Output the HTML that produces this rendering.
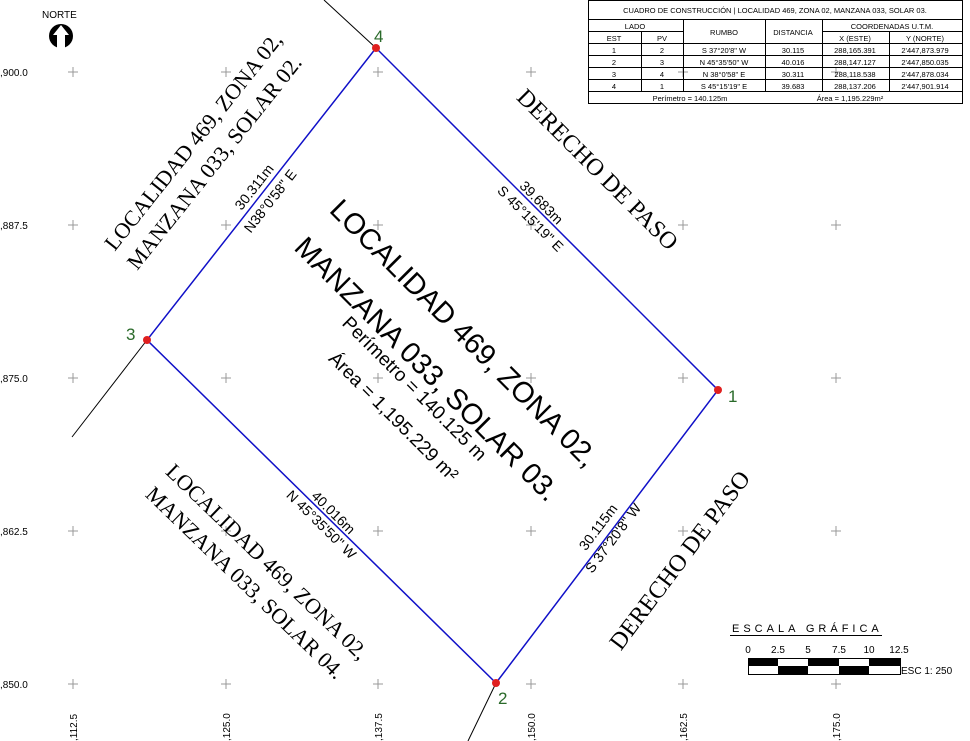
<!DOCTYPE html>
<html><head><meta charset="utf-8"><style>
html,body{margin:0;padding:0;background:#fff;}
svg{display:block;}
.t{font-family:"Liberation Sans",sans-serif;}
.s{font-family:"Liberation Serif",serif;}
</style></head><body>
<svg width="970" height="741" viewBox="0 0 970 741" xmlns="http://www.w3.org/2000/svg">
<rect width="970" height="741" fill="#fff"/>
<g stroke="#999" stroke-width="1">
<path d="M68 72h10M73 67v10M221 72h10M226 67v10M373 72h10M378 67v10M526 72h10M531 67v10M678 72h10M683 67v10M831 72h10M836 67v10"/>
<path d="M68 225h10M73 220v10M221 225h10M226 220v10M373 225h10M378 220v10M526 225h10M531 220v10M678 225h10M683 220v10M831 225h10M836 220v10"/>
<path d="M68 378h10M73 373v10M221 378h10M226 373v10M373 378h10M378 373v10M526 378h10M531 373v10M678 378h10M683 373v10M831 378h10M836 373v10"/>
<path d="M68 531h10M73 526v10M221 531h10M226 526v10M373 531h10M378 526v10M526 531h10M531 526v10M678 531h10M683 526v10M831 531h10M836 526v10"/>
<path d="M68 684h10M73 679v10M221 684h10M226 679v10M373 684h10M378 679v10M526 684h10M531 679v10M678 684h10M683 679v10M831 684h10M836 679v10"/>
</g>
<g class="t" font-size="10" fill="#000">
<text x="0" y="76">,900.0</text><text x="0" y="229">,887.5</text><text x="0" y="382">,875.0</text><text x="0" y="535">,862.5</text><text x="0" y="688">,850.0</text>
<text transform="translate(77,741) rotate(-90)">,112.5</text>
<text transform="translate(230,741) rotate(-90)">,125.0</text>
<text transform="translate(382,741) rotate(-90)">,137.5</text>
<text transform="translate(535,741) rotate(-90)">,150.0</text>
<text transform="translate(687,741) rotate(-90)">,162.5</text>
<text transform="translate(840,741) rotate(-90)">,175.0</text>
</g>
<g stroke="#000" stroke-width="1">
<line x1="376" y1="48" x2="324" y2="0"/>
<line x1="147" y1="340" x2="72" y2="437"/>
<line x1="496" y1="683" x2="468" y2="741"/>
</g>
<polygon points="376,48 718,390 496,683 147,340" fill="none" stroke="#1010c8" stroke-width="1.5"/>
<g fill="#e02020"><circle cx="376" cy="48" r="4"/><circle cx="718" cy="390" r="4"/><circle cx="496" cy="683" r="4"/><circle cx="147" cy="340" r="4"/></g>
<g class="t" font-size="17" fill="#2a6a2a">
<text x="374" y="42">4</text><text x="728" y="402">1</text><text x="498" y="704">2</text><text x="126" y="340">3</text>
</g>
<text class="t" x="42" y="18" font-size="10">NORTE</text>
<circle cx="61" cy="36" r="12" fill="#000"/>
<path d="M61 25 L69 35 L65 35 L65 48 L57 48 L57 35 L53 35 Z" fill="#fff"/>
<g class="t" font-size="14" fill="#000" text-anchor="middle">
<text transform="translate(538,206) rotate(45)">39.683m</text>
<text transform="translate(527,222) rotate(45)">S 45°15'19" E</text>
<text transform="translate(258,190) rotate(-52)">30.311m</text>
<text transform="translate(274,204) rotate(-52)">N38°0'58" E</text>
<text transform="translate(330,516) rotate(44.5)">40.016m</text>
<text transform="translate(318,528) rotate(44.5)">N 45°35'50" W</text>
<text transform="translate(602,530) rotate(-53)">30.115m</text>
<text transform="translate(617,541) rotate(-53)">S 37°20'8" W</text>
</g>
<g class="t" fill="#000" text-anchor="middle">
<text transform="translate(457,340) rotate(45)" font-size="29">LOCALIDAD 469, ZONA 02,</text>
<text transform="translate(420,376) rotate(45)" font-size="29">MANZANA 033, SOLAR 03.</text>
<text transform="translate(410,393) rotate(45)" font-size="19">Perímetro = 140.125 m</text>
<text transform="translate(389,421) rotate(45)" font-size="19">Área = 1,195.229 m²</text>
</g>
<g class="s" fill="#000" text-anchor="middle" font-size="22">
<text transform="translate(199,146) rotate(-51.5)">LOCALIDAD 469, ZONA 02,</text>
<text transform="translate(220,167) rotate(-51.5)">MANZANA 033, SOLAR 02.</text>
<text transform="translate(592,175) rotate(45)" font-size="24">DERECHO DE PASO</text>
<text transform="translate(686,565) rotate(-53)" font-size="24">DERECHO DE PASO</text>
<text transform="translate(262,567) rotate(44)">LOCALIDAD 469, ZONA 02,</text>
<text transform="translate(240,588) rotate(44)">MANZANA 033, SOLAR 04.</text>
</g>
<g stroke="#000" stroke-width="1" fill="none">
<rect x="588.5" y="0.5" width="374" height="103"/>
<line x1="588" y1="19.5" x2="962" y2="19.5"/>
<line x1="588" y1="31.5" x2="683" y2="31.5"/>
<line x1="822" y1="31.5" x2="962" y2="31.5"/>
<line x1="588" y1="43.5" x2="962" y2="43.5"/>
<line x1="588" y1="55.5" x2="962" y2="55.5"/>
<line x1="588" y1="67.5" x2="962" y2="67.5"/>
<line x1="588" y1="79.5" x2="962" y2="79.5"/>
<line x1="588" y1="91.5" x2="962" y2="91.5"/>
<line x1="641.5" y1="31" x2="641.5" y2="91"/>
<line x1="683.5" y1="19" x2="683.5" y2="91"/>
<line x1="765.5" y1="19" x2="765.5" y2="91"/>
<line x1="822.5" y1="19" x2="822.5" y2="91"/>
<line x1="889.5" y1="31" x2="889.5" y2="91"/>
</g>
<g class="t" font-size="7.5" fill="#000" text-anchor="middle">
<text x="775" y="13">CUADRO DE CONSTRUCCIÓN | LOCALIDAD 469, ZONA 02, MANZANA 033, SOLAR 03.</text>
<text x="635" y="29">LADO</text><text x="724" y="35">RUMBO</text><text x="793" y="35">DISTANCIA</text><text x="892" y="29">COORDENADAS U.T.M.</text>
<text x="614" y="41">EST</text><text x="662" y="41">PV</text><text x="855" y="41">X (ESTE)</text><text x="925" y="41">Y (NORTE)</text>
<text x="614" y="53">1</text><text x="662" y="53">2</text><text x="724" y="53">S 37°20'8" W</text><text x="793" y="53">30.115</text><text x="855" y="53">288,165.391</text><text x="925" y="53">2'447,873.979</text>
<text x="614" y="65">2</text><text x="662" y="65">3</text><text x="724" y="65">N 45°35'50" W</text><text x="793" y="65">40.016</text><text x="855" y="65">288,147.127</text><text x="925" y="65">2'447,850.035</text>
<text x="614" y="77">3</text><text x="662" y="77">4</text><text x="724" y="77">N 38°0'58" E</text><text x="793" y="77">30.311</text><text x="855" y="77">288,118.538</text><text x="925" y="77">2'447,878.034</text>
<text x="614" y="89">4</text><text x="662" y="89">1</text><text x="724" y="89">S 45°15'19" E</text><text x="793" y="89">39.683</text><text x="855" y="89">288,137.206</text><text x="925" y="89">2'447,901.914</text>
<text x="690" y="101">Perímetro = 140.125m</text><text x="850" y="101">Área = 1,195.229m²</text>
</g>
<text class="t" x="732" y="632" font-size="11" letter-spacing="4">ESCALA GRÁFICA</text>
<line x1="730" y1="635.5" x2="882" y2="635.5" stroke="#000"/>
<g class="t" font-size="10" text-anchor="middle">
<text x="748" y="653">0</text><text x="778" y="653">2.5</text><text x="808" y="653">5</text><text x="839" y="653">7.5</text><text x="869" y="653">10</text><text x="899" y="653">12.5</text>
</g>
<rect x="748.5" y="658.5" width="152" height="16" fill="#fff" stroke="#000"/>
<g fill="#000">
<rect x="748" y="658" width="30" height="8"/><rect x="808" y="658" width="31" height="8"/><rect x="869" y="658" width="31" height="8"/>
<rect x="778" y="666" width="30" height="9"/><rect x="839" y="666" width="30" height="9"/>
</g>
<text class="t" x="901" y="674" font-size="10">ESC 1: 250</text>
</svg>
</body></html>
